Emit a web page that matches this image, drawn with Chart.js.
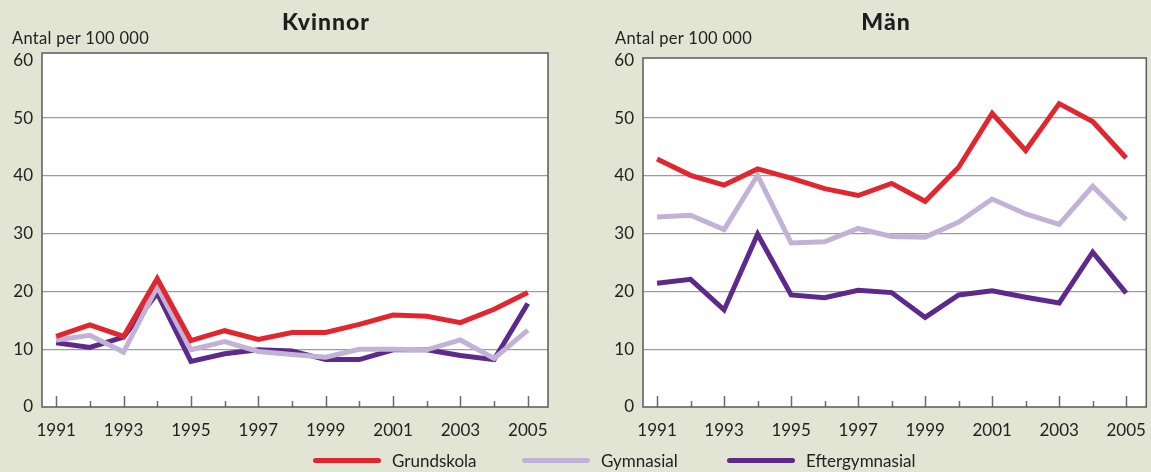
<!DOCTYPE html>
<html>
<head>
<meta charset="utf-8">
<script src="https://cdn.jsdelivr.net/npm/chart.js@4.4.1/dist/chart.umd.min.js"></script>
<style>
    body { margin: 0; background: #e2e5d3; font-family: Lato, "Open Sans", sans-serif; color: #222; }
    #wrap { position: relative; width: 1151px; height: 472px; overflow: hidden; }
    .panel { position: absolute; top: 0; height: 472px; }
    .title { position: absolute; top: 7px; font-weight: 900; font-size: 23px; letter-spacing: 1px; transform: translateX(-50%); color: #1e1e1e; }
    .unit { position: absolute; top: 28px; font-size: 16.5px; letter-spacing: 0.3px; }
    .leg { position: absolute; top: 450px; display: flex; align-items: center; font-size: 17px; }
    .leg span.sw { display: inline-block; width: 68px; height: 5px; border-radius: 3px; margin-right: 11px; }
</style>
</head>
<body>
<div id="wrap">
    <canvas id="kvinnorChart" class="panel" style="left:0px" width="575" height="472"></canvas>
    <canvas id="manChart" class="panel" style="left:575px" width="576" height="472"></canvas>
    <div class="title" style="left:326px">Kvinnor</div>
    <div class="title" style="left:886px">Män</div>
    <div class="unit" style="left:12px">Antal per 100 000</div>
    <div class="unit" style="left:615px">Antal per 100 000</div>
    <div id="legend"></div>
</div>
<script>
// Data
const years = [1991, 1992, 1993, 1994, 1995, 1996, 1997, 1998, 1999, 2000, 2001, 2002, 2003, 2004, 2005];
const yTicks = [0, 10, 20, 30, 40, 50, 60];
const seriesNames = ['Grundskola', 'Gymnasial', 'Eftergymnasial'];

const kvinnorGrundskola = [12.2, 14.2, 12.2, 22.2, 11.5, 13.2, 11.7, 12.9, 12.9, 14.3, 15.9, 15.7, 14.6, 16.9, 19.8];
const kvinnorGymnasial = [11.6, 12.4, 9.5, 20.8, 9.9, 11.3, 9.6, 9.1, 8.6, 10.0, 10.0, 9.9, 11.6, 8.4, 13.3];
const kvinnorEftergymnasial = [11.1, 10.3, 12.1, 19.7, 7.9, 9.2, 9.9, 9.7, 8.2, 8.2, 9.9, 9.9, 8.9, 8.2, 17.9];

const manGrundskola = [42.9, 40.1, 38.4, 41.2, 39.6, 37.8, 36.6, 38.7, 35.6, 41.5, 50.8, 44.4, 52.5, 49.4, 43.1];
const manGymnasial = [32.9, 33.2, 30.7, 40.1, 28.4, 28.6, 30.9, 29.5, 29.4, 32.0, 36.0, 33.4, 31.6, 38.2, 32.4];
const manEftergymnasial = [21.4, 22.1, 16.8, 29.9, 19.4, 18.9, 20.2, 19.8, 15.5, 19.4, 20.1, 19.0, 18.0, 26.8, 19.7];

const seriesColors = ['#e2262f', '#c2b3d6', '#5d2a8b'];

// White plot area, inward year ticks and frame
const panelPlugin = {
    id: 'panel',
    beforeDraw(chart) {
        const a = chart.chartArea, ctx = chart.ctx;
        ctx.save();
        ctx.fillStyle = '#ffffff';
        ctx.fillRect(a.left, a.top, a.right - a.left, a.bottom - a.top);
        ctx.restore();
    },
    beforeDatasetsDraw(chart) {
        const a = chart.chartArea, ctx = chart.ctx, xs = chart.scales.x;
        ctx.save();
        ctx.strokeStyle = '#6a6a6a';
        ctx.lineWidth = 1.5;
        years.forEach(y => {
            const px = Math.round(xs.getPixelForValue(y)) + 0.5;
            const len = y % 2 === 1 ? 11 : 6;
            ctx.beginPath();
            ctx.moveTo(px, a.bottom);
            ctx.lineTo(px, a.bottom - len);
            ctx.stroke();
        });
        ctx.restore();
    },
    afterDraw(chart) {
        const a = chart.chartArea, ctx = chart.ctx;
        ctx.save();
        ctx.strokeStyle = '#5a5a5a';
        ctx.lineWidth = 1.5;
        ctx.strokeRect(a.left, a.top, a.right - a.left, a.bottom - a.top);
        ctx.restore();
    }
};

function makeChart(id, seriesData, yAxisWidth, yMax, padding) {
    const ctx = document.getElementById(id).getContext('2d');
    return new Chart(ctx, {
        type: 'line',
        data: {
            datasets: seriesData.map((vals, i) => ({
                label: seriesNames[i],
                data: years.map((yr, j) => ({ x: yr, y: vals[j] })),
                borderColor: seriesColors[i],
                borderWidth: 5,
                borderJoinStyle: 'miter',
                pointRadius: 0,
                tension: 0,
                fill: false
            }))
        },
        options: {
            responsive: false,
            animation: false,
            layout: { padding: padding },
            plugins: { legend: { display: false }, tooltip: { enabled: false } },
            scales: {
                x: {
                    type: 'linear',
                    min: 1990.58,
                    max: 2005.6,
                    afterBuildTicks: s => { s.ticks = years.map(v => ({ value: v })); },
                    afterFit: s => { s.height = 65; },
                    ticks: {
                        autoSkip: false,
                        maxRotation: 0,
                        padding: 5,
                        color: '#222',
                        font: { family: 'Lato', size: 17 },
                        callback: v => (v % 2 === 1 ? String(v) : '')
                    },
                    grid: { display: false },
                    border: { display: false }
                },
                y: {
                    min: 0,
                    max: yMax,
                    afterBuildTicks: s => { s.ticks = yTicks.map(v => ({ value: v })); },
                    afterFit: s => { s.width = yAxisWidth; },
                    ticks: {
                        padding: 9,
                        color: '#222',
                        font: { family: 'Lato', size: 17 }
                    },
                    grid: {
                        drawTicks: false,
                        lineWidth: 1.2,
                        color: c => (c.tick && c.tick.value > 0 && c.tick.value < 60) ? '#9c9c9c' : 'rgba(0,0,0,0)'
                    },
                    border: { display: false }
                }
            }
        },
        plugins: [panelPlugin]
    });
}

makeChart('kvinnorChart', [kvinnorGrundskola, kvinnorGymnasial, kvinnorEftergymnasial], 42, 61.25,
    { left: 0, right: 27, top: 53, bottom: 0 });
makeChart('manChart', [manGrundskola, manGymnasial, manEftergymnasial], 68, 60.4,
    { left: 0, right: 2, top: 58, bottom: 0 });

// Legend built from the series
const legendX = [313, 522, 727];
const legend = document.getElementById('legend');
seriesNames.forEach((name, i) => {
    const item = document.createElement('div');
    item.className = 'leg';
    item.style.left = legendX[i] + 'px';
    item.innerHTML = `<span class="sw" style="background:${seriesColors[i]}"></span><span>${name}</span>`;
    legend.appendChild(item);
});
</script>
</body>
</html>
